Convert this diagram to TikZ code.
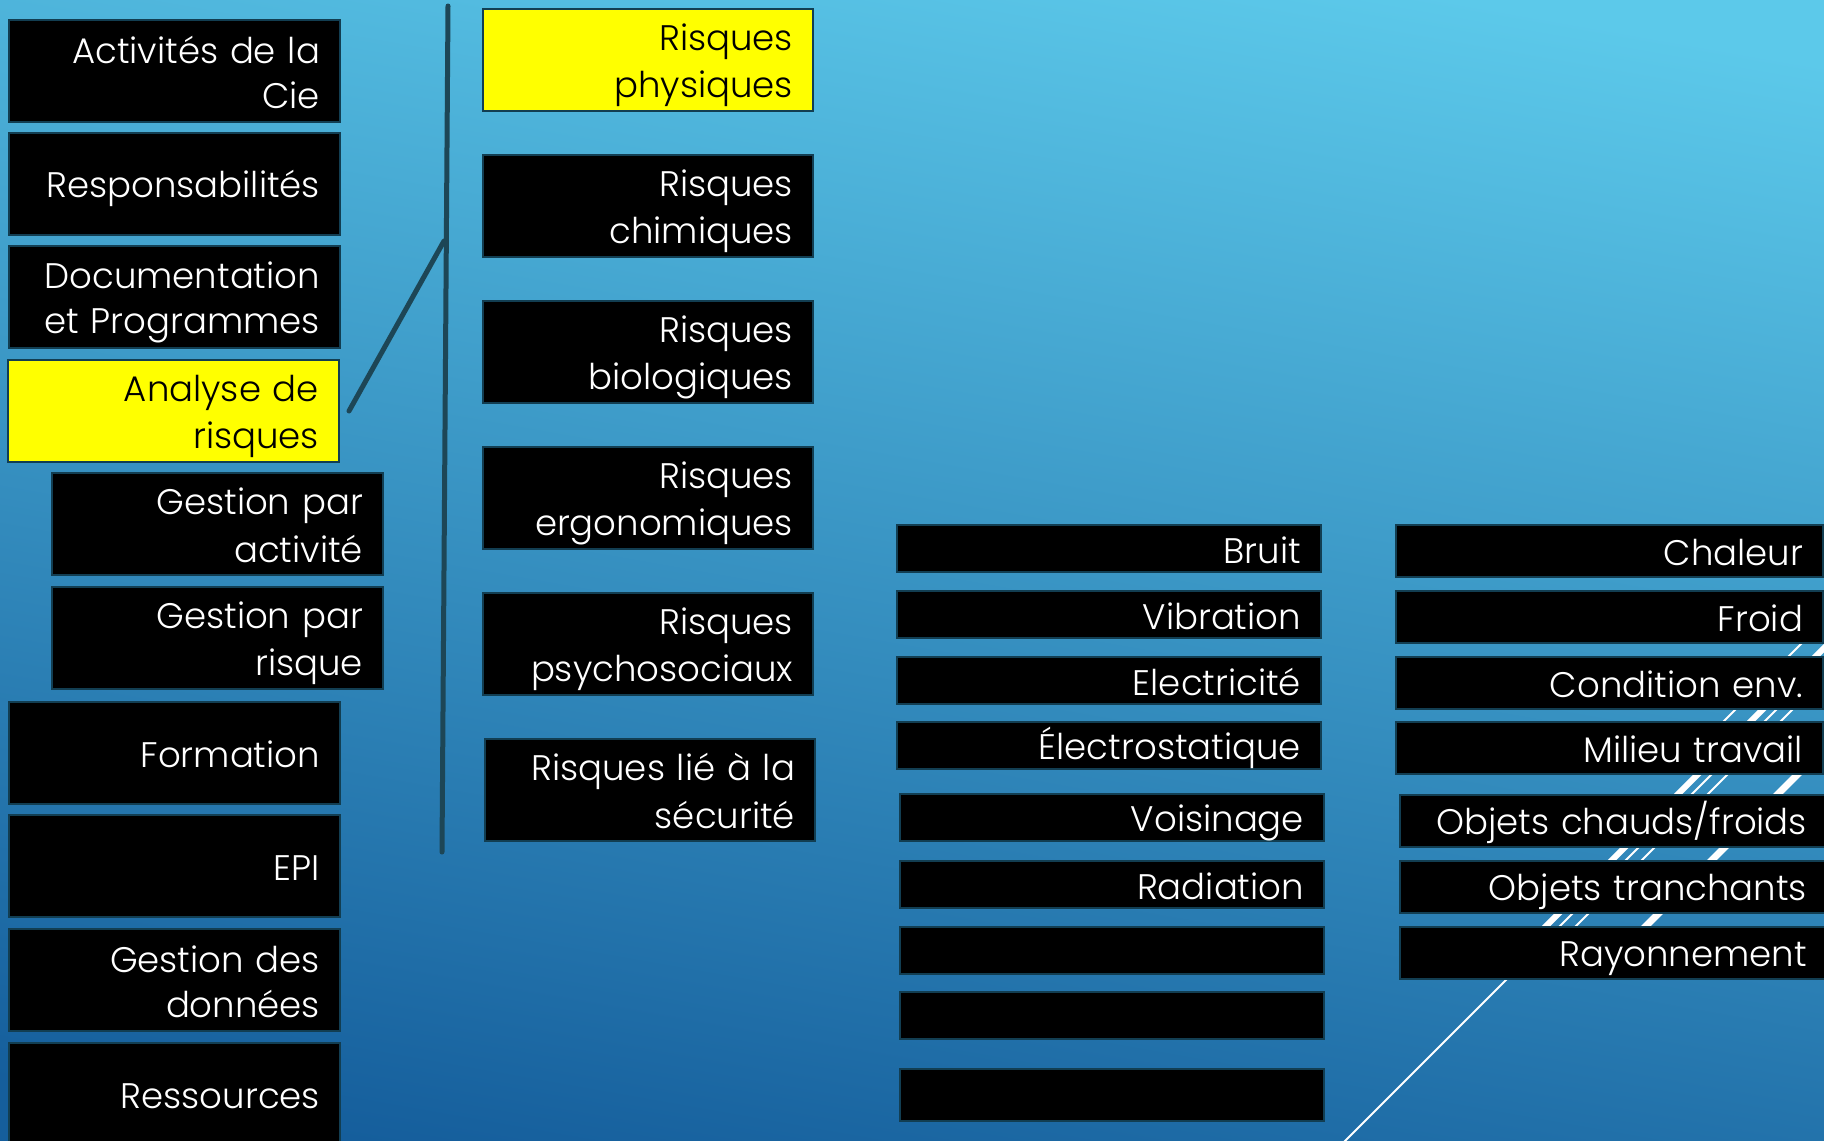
\documentclass[tikz,border=0pt]{standalone}
\usepackage{fontspec}
\setmainfont{Poppins}[UprightFont={* Light}]
\definecolor{bgtop}{HTML}{5CC9EA}
\definecolor{bgbot}{HTML}{155E9C}
\definecolor{boxline}{HTML}{123E52}
\definecolor{conn}{HTML}{1D4656}
\definecolor{hl}{HTML}{FFFF00}
\newcommand\boxstrut{\rule[-8pt]{0pt}{45pt}}
\begin{document}
\begin{tikzpicture}[x=1pt,y=-1pt,
  box/.style={draw=boxline, line width=2.5pt, fill=black, text=white,
    anchor=north west, inner xsep=20pt, inner ysep=0pt, outer sep=0pt, align=right,
    font=\fontsize{35.5pt}{45pt}\selectfont,
    execute at begin node=\boxstrut, execute at end node=\boxstrut},
  yellowbox/.style={fill=hl, text=black},
  colA/.style={box, text width=291pt, minimum width=331pt, minimum height=102pt},
  colB/.style={box, text width=290pt, minimum width=330pt, minimum height=102pt},
  colC/.style={box, text width=384pt, minimum width=424pt, minimum height=47pt},
  colD/.style={box, text width=387pt, minimum width=427pt, minimum height=52pt},
  connector/.style={draw=conn, line width=5pt, line cap=round},
  thinstripe/.style={draw=white, line width=2pt},
  thickstripe/.style={draw=white, line width=6pt}
]
\useasboundingbox (0,0) rectangle (1824,1141);
\clip (0,0) rectangle (1824,1141);
\shade[top color=bgtop, bottom color=bgbot, shading angle=-10] (-40,-40) rectangle (1864,1181);

% decorative white stripes (background)
\draw[thinstripe]  (1865,580) -- (1685,760);
\draw[thickstripe] (1892,580) -- (1522,950);
\draw[thinstripe]  (1906,580) -- (1336,1150);
\draw[thinstripe]  (1922,580) -- (1552,950);
\draw[thickstripe, line width=7pt] (1992,580) -- (1622,950);

% connector lines
\coordinate (vtop) at (448,6);
\coordinate (vbot) at (442,852);
\coordinate (vjoin) at (444,241);
\coordinate (astart) at (349,411);
\draw[connector] (vtop) -- (vbot);

% column 1
\node[colA] (a1) at (9,20) {Activités de la\\Cie};
\node[colA] (a2) at (9,133) {Responsabilités};
\node[colA] (a3) at (9,246) {Documentation\\et Programmes};
\node[colA, yellowbox] (a4) at (8,360) {Analyse de\\risques};
\node[colA] (a5) at (52,473) {Gestion par\\activité};
\node[colA] (a6) at (52,587) {Gestion par\\risque};
\node[colA] (a7) at (9,702) {Formation};
\node[colA] (a8) at (9,815) {EPI};
\node[colA] (a9) at (9,929) {Gestion des\\données};
\node[colA] (a10) at (9,1043) {Ressources};

\draw[connector] (astart) -- (vjoin);

% column 2
\node[colB, yellowbox] (b1) at (483,9) {Risques\\physiques};
\node[colB] (b2) at (483,155) {Risques\\chimiques};
\node[colB] (b3) at (483,301) {Risques\\biologiques};
\node[colB] (b4) at (483,447) {Risques\\ergonomiques};
\node[colB] (b5) at (483,593) {Risques\\psychosociaux};
\node[colB] (b6) at (485,739) {Risques lié à la\\sécurité};

% column 3
\node[colC] (c1) at (897,525) {Bruit};
\node[colC] (c2) at (897,591) {Vibration};
\node[colC] (c3) at (897,657) {Electricité};
\node[colC] (c4) at (897,722) {Électrostatique};
\node[colC] (c5) at (900,794) {Voisinage};
\node[colC] (c6) at (900,861) {Radiation};
\node[colC] (c7) at (900,927) {};
\node[colC] (c8) at (900,992) {};
\node[colC, minimum height=52pt] (c9) at (900,1069) {};

% column 4
\node[colD] (d1) at (1396,525) {Chaleur};
\node[colD] (d2) at (1396,591) {Froid};
\node[colD] (d3) at (1396,657) {Condition env.};
\node[colD] (d4) at (1396,722) {Milieu travail};
\node[colD] (d5) at (1400,795) {\mbox{Objets chauds/froids}};
\node[colD] (d6) at (1400,861) {Objets tranchants};
\node[colD] (d7) at (1400,927) {Rayonnement};
\end{tikzpicture}
\end{document}
